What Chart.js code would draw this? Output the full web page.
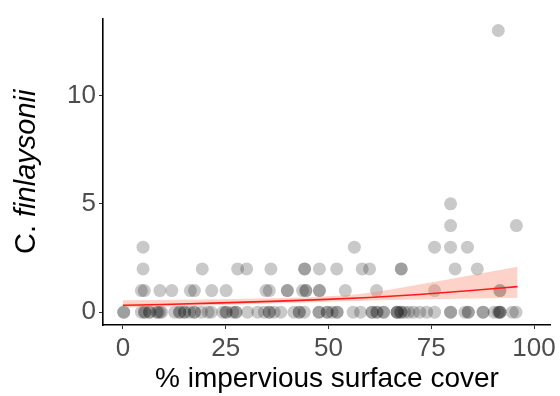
<!DOCTYPE html>
<html>
<head>
<meta charset="utf-8">
<script src="https://cdn.jsdelivr.net/npm/chart.js@4/dist/chart.umd.min.js"></script>
<style>
  html, body { margin: 0; padding: 0; background: #fff; }
  #wrap { width: 560px; height: 396px; }
</style>
</head>
<body>
<div id="wrap"><canvas id="coverChart"></canvas></div>
<script>

// surveyed sites, grouped by number of C. finlaysonii counted
var cover0 = [0.2, 0.2, 4.5, 5.3, 5.3, 6.5, 6.5, 8.2, 8.5, 9.0, 9.4, 12.6, 13.8, 13.8, 15.0, 15.0,
  16.2, 17.4, 17.4, 19.1, 20.7, 21.5, 24.3, 25.1, 25.1, 26.7, 27.5, 27.5, 30.3, 32.8, 34.4, 35.6,
  35.6, 36.8, 38.4, 41.6, 42.9, 42.9, 44.1, 47.7, 47.7, 49.7, 49.7, 50.9, 52.1, 52.1, 56.0, 57.8,
  60.6, 60.6, 61.8, 61.8, 63.4, 63.4, 66.7, 66.7, 66.7, 67.6, 67.6, 68.5, 69.5, 70.7, 72.2, 73.9,
  75.8, 79.7, 79.7, 83.2, 84.0, 84.0, 87.6, 87.6, 90.3, 91.3, 91.7, 91.7, 91.7, 94.7, 95.6];
var cover1 = [4.5, 5.2, 9.0, 11.9, 16.4, 17.4, 21.6, 25.1, 34.8, 35.6, 40.0, 40.0, 43.7, 44.5, 44.5,
  47.8, 47.8, 54.1, 61.7, 75.8, 91.7, 91.7];
var cover2 = [4.9, 19.3, 27.9, 30.1, 36.0, 44.2, 44.2, 47.8, 52.0, 58.2, 60.0, 67.7, 67.7, 80.8, 86.2];
var cover3 = [4.9, 56.3, 75.8, 79.7, 83.8];
var cover4 = [79.7, 95.7];
var cover5 = [79.7];
var cover13 = [91.3];

// fitted trend with its confidence band
var fitCover = [0, 12, 24, 36, 48, 60, 72, 84, 96];
var fitMean = [0.32, 0.37, 0.43, 0.50, 0.58, 0.68, 0.82, 0.99, 1.18];
var fitLow = [0.21, 0.27, 0.33, 0.40, 0.47, 0.54, 0.59, 0.63, 0.67];
var fitHigh = [0.55, 0.57, 0.60, 0.64, 0.71, 0.90, 1.28, 1.68, 2.10];

var xTicks = [0, 25, 50, 75, 100];
var yTicks = [0, 5, 10];

function buildPoints(){
  var groups = [[cover0, 0], [cover1, 1], [cover2, 2], [cover3, 3], [cover4, 4], [cover5, 5], [cover13, 13]];
  var pts = [];
  groups.forEach(function(g){
    g[0].forEach(function(v){ pts.push({x: v, y: g[1]}); });
  });
  return pts;
}

function series(values){
  return fitCover.map(function(v, i){ return {x: v, y: values[i]}; });
}

// y title: genus initial upright, species name italic
var yTitlePlugin = {
  id: 'yTitle',
  afterDraw: function(chart){
    var ctx = chart.ctx;
    var area = chart.chartArea;
    var a = 'C. ', b = 'finlaysonii';
    ctx.save();
    ctx.fillStyle = '#000';
    ctx.textBaseline = 'alphabetic';
    ctx.font = '29px "Liberation Sans", Arial, sans-serif';
    var wa = ctx.measureText(a).width;
    ctx.font = 'italic 29px "Liberation Sans", Arial, sans-serif';
    var wb = ctx.measureText(b).width;
    ctx.translate(35, (area.top + area.bottom) / 2);
    ctx.rotate(-Math.PI / 2);
    var start = -(wa + wb) / 2;
    ctx.font = '29px "Liberation Sans", Arial, sans-serif';
    ctx.fillText(a, start, 0);
    ctx.font = 'italic 29px "Liberation Sans", Arial, sans-serif';
    ctx.fillText(b, start + wa, 0);
    ctx.restore();
  }
};

function drawChart(){
  var ctx = document.getElementById('coverChart').getContext('2d');
  new Chart(ctx, {
    type: 'scatter',
    data: {
      datasets: [
        {
          type: 'line',
          data: series(fitMean),
          borderColor: '#ff1a1a',
          borderWidth: 1.6,
          pointRadius: 0,
          fill: false,
          cubicInterpolationMode: 'monotone',
          order: 0
        },
        {
          type: 'line',
          data: series(fitHigh),
          borderWidth: 0,
          pointRadius: 0,
          backgroundColor: 'rgba(250,128,100,0.35)',
          fill: '+1',
          cubicInterpolationMode: 'monotone',
          order: 1
        },
        {
          type: 'line',
          data: series(fitLow),
          borderWidth: 0,
          pointRadius: 0,
          fill: false,
          cubicInterpolationMode: 'monotone',
          order: 2
        },
        {
          data: buildPoints(),
          backgroundColor: 'rgba(0,0,0,0.21)',
          borderWidth: 0,
          pointRadius: 6.5,
          pointHoverRadius: 6.5,
          order: 3
        }
      ]
    },
    options: {
      responsive: true,
      maintainAspectRatio: false,
      animation: false,
      events: [],
      layout: { padding: { top: 14, right: 7, left: 0, bottom: 0 } },
      plugins: { legend: { display: false }, tooltip: { enabled: false } },
      scales: {
        x: {
          type: 'linear',
          min: -4.84,
          max: 104.1,
          afterBuildTicks: function(axis){ axis.ticks = xTicks.map(function(v){ return {value: v}; }); },
          afterFit: function(axis){ axis.height = 71; },
          grid: { drawOnChartArea: false, drawTicks: true, tickLength: 4, color: '#333', lineWidth: 1 },
          border: { display: true, color: '#000', width: 1.6 },
          ticks: { color: '#4d4d4d', padding: 4, maxRotation: 0, font: { family: '"Liberation Sans", Arial, sans-serif', size: 26 } },
          title: {
            display: true,
            text: '% impervious surface cover',
            color: '#000',
            padding: { top: 0, bottom: 0 },
            font: { family: '"Liberation Sans", Arial, sans-serif', size: 28, lineHeight: 1.2 }
          }
        },
        y: {
          type: 'linear',
          min: -0.59,
          max: 13.55,
          afterBuildTicks: function(axis){ axis.ticks = yTicks.map(function(v){ return {value: v}; }); },
          afterFit: function(axis){ axis.width = 103; },
          grid: { drawOnChartArea: false, drawTicks: true, tickLength: 4, color: '#333', lineWidth: 1 },
          border: { display: true, color: '#000', width: 1.6 },
          ticks: { color: '#4d4d4d', padding: 3, font: { family: '"Liberation Sans", Arial, sans-serif', size: 26 } }
        }
      }
    },
    plugins: [yTitlePlugin]
  });
}

drawChart();
</script>
</body>
</html>
